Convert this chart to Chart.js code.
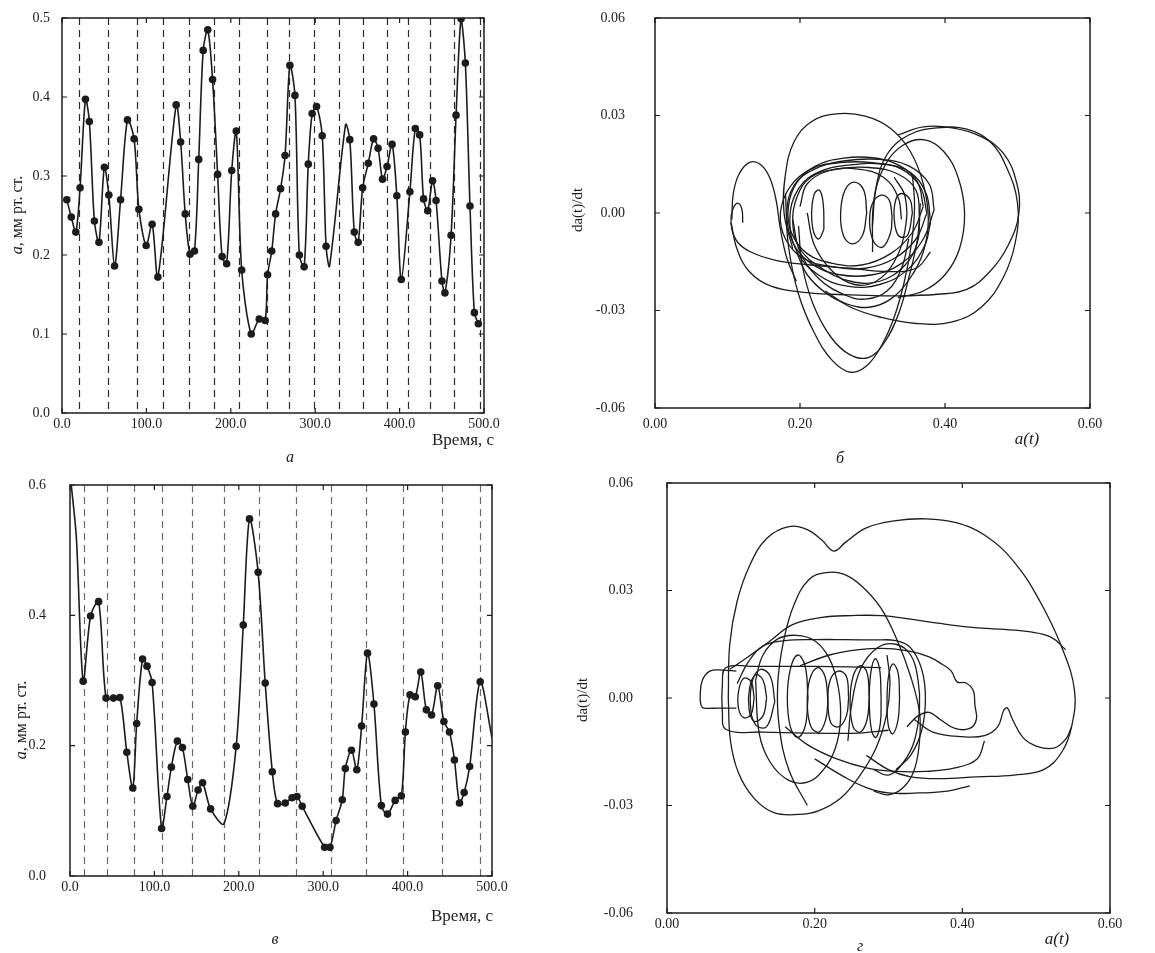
<!DOCTYPE html>
<html>
<head>
<meta charset="utf-8">
<script src="https://cdn.jsdelivr.net/npm/chart.js@4.4.1/dist/chart.umd.min.js"></script>
<style>
  body { margin: 0; background: #fff; width: 1155px; height: 953px; position: relative; overflow: hidden; }
  canvas { position: absolute; }
</style>
</head>
<body>
<canvas id="chartA" width="555" height="470" style="left:0;top:0"></canvas>
<canvas id="chartB" width="600" height="470" style="left:555px;top:0"></canvas>
<canvas id="chartC" width="555" height="483" style="left:0;top:470px"></canvas>
<canvas id="chartD" width="600" height="483" style="left:555px;top:470px"></canvas>
<script>
// ---- panel а : time series ----
const timeA = [5.7, 11.0, 16.4, 21.4, 27.8, 32.4, 38.4, 43.8, 50.2, 55.5, 62.3, 69.4, 77.6, 85.4, 91.1, 99.7,
  106.8, 113.6, 135.3, 140.6, 146.0, 151.7, 157.0, 162.0, 167.3, 172.7, 178.4, 184.4, 189.7, 195.1, 201.1,
  206.5, 212.9, 224.2, 233.7, 240.7, 243.6, 248.5, 253.1, 259.0, 264.3, 270.0, 276.0, 281.2, 286.9, 291.8,
  296.4, 301.6, 308.3, 312.9, 317.0, 336.0, 341.0, 346.3, 350.9, 356.2, 362.9, 369.2, 374.5, 379.8, 385.1,
  391.1, 396.7, 402.0, 412.2, 418.6, 423.8, 428.4, 433.3, 439.0, 443.2, 450.2, 453.7, 461.0, 466.9, 472.8,
  477.9, 483.4, 488.6, 493.3];
const levelA = [0.270, 0.248, 0.229, 0.285, 0.397, 0.369, 0.243, 0.216, 0.311, 0.276, 0.186, 0.270, 0.371,
  0.347, 0.258, 0.212, 0.239, 0.172, 0.390, 0.343, 0.252, 0.201, 0.205, 0.321, 0.459, 0.485, 0.422, 0.302,
  0.198, 0.189, 0.307, 0.357, 0.181, 0.100, 0.119, 0.117, 0.175, 0.205, 0.252, 0.284, 0.326, 0.440, 0.402,
  0.200, 0.185, 0.315, 0.379, 0.388, 0.351, 0.211, 0.186, 0.365, 0.346, 0.229, 0.216, 0.285, 0.316, 0.347,
  0.335, 0.296, 0.312, 0.340, 0.275, 0.169, 0.280, 0.360, 0.352, 0.271, 0.256, 0.294, 0.269, 0.167, 0.152,
  0.225, 0.377, 0.499, 0.443, 0.262, 0.127, 0.113];
const plainA = [317.0, 336.0];   // curve passes here without a marker
const dashA = [20.5, 54, 88.5, 120, 151, 180.5, 210, 242.5, 269, 299, 328.6, 357, 385, 410, 436, 464, 495];

// ---- panel в : time series ----
const timeC = [1.5, 7.5, 15.6, 24.4, 33.9, 42.7, 51.5, 59.2, 67.3, 74.4, 79.0, 86.0, 91.3, 97.3, 108.5, 114.9,
  120.1, 127.2, 133.2, 139.5, 145.5, 151.8, 157.1, 166.6, 182.4, 196.9, 205.3, 212.7, 222.9, 231.3, 239.7,
  245.9, 255.0, 263.1, 268.9, 275.1, 301.7, 308.0, 315.3, 322.6, 326.2, 333.5, 339.8, 345.5, 352.5, 360.1,
  368.9, 376.2, 385.3, 392.6, 397.4, 402.9, 409.1, 415.6, 422.2, 428.4, 435.7, 443.0, 449.6, 455.5, 461.5,
  467.0, 473.5, 486.0, 500.0];
const levelC = [0.600, 0.520, 0.299, 0.399, 0.421, 0.273, 0.273, 0.274, 0.190, 0.135, 0.234, 0.333, 0.322,
  0.297, 0.073, 0.122, 0.167, 0.207, 0.197, 0.148, 0.107, 0.132, 0.143, 0.103, 0.080, 0.199, 0.385, 0.548,
  0.466, 0.296, 0.160, 0.111, 0.112, 0.120, 0.122, 0.107, 0.044, 0.044, 0.085, 0.117, 0.165, 0.193, 0.163,
  0.230, 0.342, 0.264, 0.108, 0.095, 0.116, 0.123, 0.221, 0.278, 0.275, 0.313, 0.255, 0.247, 0.292, 0.237,
  0.221, 0.178, 0.112, 0.128, 0.168, 0.298, 0.212];
const plainC = [1.5, 7.5, 182.4, 500.0];
const dashC = [17, 43.7, 75.4, 109, 144, 182.5, 224, 268, 309.5, 351, 395, 440.5, 486];

// ---- panel б : phase portrait, pieces of the trajectory [a, da/dt] ----
const hookB = [[0.121,-0.003],[0.12,0.001],[0.115,0.003],[0.109,0.002],[0.105,-0.001],[0.106,-0.005],[0.114,-0.009],
  [0.132,-0.012],[0.165,-0.0145],[0.215,-0.016],[0.27,-0.017],[0.32,-0.018],[0.36,-0.017],[0.38,-0.012]];
const lobeB = [[0.106,-0.002],[0.108,0.006],[0.116,0.012],[0.13,0.0155],[0.145,0.015],[0.158,0.011],[0.167,0.004],
  [0.173,-0.005],[0.182,-0.014],[0.195,-0.021]];
const sweepB = [[0.105,-0.003],[0.113,-0.011],[0.13,-0.018],[0.16,-0.0225],[0.21,-0.0245],[0.27,-0.0252],[0.33,-0.0255],
  [0.39,-0.025],[0.43,-0.0235],[0.462,-0.018],[0.487,-0.01],[0.502,0.0],[0.498,0.01],[0.48,0.0185],[0.45,0.0235],
  [0.41,0.0262],[0.37,0.0265],[0.335,0.024]];
const rightB = [[0.3,-0.004],[0.305,0.008],[0.32,0.018],[0.35,0.024],[0.39,0.0262],[0.43,0.0258],[0.462,0.022],
  [0.485,0.014],[0.5,0.003],[0.497,-0.009],[0.48,-0.02],[0.45,-0.029],[0.41,-0.0335],[0.36,-0.034],[0.31,-0.032],
  [0.27,-0.029],[0.235,-0.024]];
const dropB1 = [[0.18,0.006],[0.184,-0.01],[0.198,-0.025],[0.22,-0.037],[0.245,-0.0455],[0.27,-0.049],[0.292,-0.047],
  [0.312,-0.041],[0.33,-0.032],[0.344,-0.021],[0.354,-0.009],[0.358,0.002],[0.355,0.012]];
const dropB2 = [[0.198,-0.004],[0.203,-0.016],[0.218,-0.028],[0.242,-0.038],[0.268,-0.0435],[0.294,-0.0445],
  [0.316,-0.04],[0.336,-0.031],[0.35,-0.02],[0.362,-0.008],[0.366,0.003]];
const topB = [[0.19,-0.011],[0.178,0.0],[0.18,0.012],[0.192,0.022],[0.215,0.028],[0.25,0.0305],[0.29,0.0298],
  [0.325,0.026],[0.352,0.019],[0.37,0.009],[0.377,-0.002],[0.37,-0.012],[0.352,-0.02],[0.325,-0.0265],[0.295,-0.029],
  [0.265,-0.028],[0.235,-0.0245],[0.21,-0.019],[0.195,-0.012]];
const midB = [[0.3,-0.012],[0.302,0.004],[0.318,0.015],[0.343,0.021],[0.372,0.0225],[0.398,0.019],[0.418,0.011],
  [0.427,0.0],[0.42,-0.011],[0.4,-0.019],[0.37,-0.024],[0.335,-0.026]];
const ringB1 = [[0.375,0.0],[0.366,0.008],[0.34,0.0135],[0.3,0.0155],[0.255,0.0155],[0.215,0.0135],[0.186,0.008],
  [0.173,0.0],[0.18,-0.008],[0.205,-0.014],[0.245,-0.0165],[0.29,-0.017],[0.33,-0.014],[0.36,-0.008],[0.375,0.0]];
const ringB2 = [[0.385,0.001],[0.378,0.009],[0.35,0.0145],[0.31,0.0165],[0.26,0.016],[0.22,0.0135],[0.192,0.0085],
  [0.182,0.0],[0.19,-0.009],[0.215,-0.0155],[0.255,-0.019],[0.3,-0.019],[0.34,-0.0155],[0.37,-0.008],[0.385,0.001]];
const ringB3 = [[0.365,-0.002],[0.36,0.007],[0.335,0.012],[0.295,0.014],[0.25,0.0135],[0.215,0.011],[0.196,0.005],
  [0.19,-0.003],[0.2,-0.011],[0.23,-0.017],[0.27,-0.021],[0.31,-0.021],[0.345,-0.016],[0.362,-0.009],[0.365,-0.002]];
const ringB4 = [[0.38,-0.003],[0.374,0.006],[0.352,0.0125],[0.315,0.015],[0.27,0.0148],[0.228,0.0128],[0.198,0.0075],
  [0.186,-0.002],[0.196,-0.012],[0.225,-0.019],[0.265,-0.0225],[0.31,-0.022],[0.348,-0.0175],[0.372,-0.01],[0.38,-0.003]];
const ringB5 = [[0.37,0.002],[0.362,0.0095],[0.338,0.0145],[0.3,0.017],[0.258,0.0168],[0.222,0.0145],[0.196,0.0095],
  [0.184,0.002],[0.188,-0.006],[0.21,-0.0125],[0.245,-0.0155],[0.285,-0.016],[0.325,-0.0125],[0.355,-0.006],[0.37,0.002]];
const innerB1 = [[0.233,-0.005],[0.232,0.003],[0.227,0.007],[0.22,0.006],[0.216,0.0],[0.219,-0.006],[0.226,-0.008],[0.233,-0.005]];
const innerB2 = [[0.292,0.0],[0.288,0.007],[0.275,0.0095],[0.262,0.007],[0.256,0.0],[0.26,-0.007],[0.272,-0.0095],[0.286,-0.007],[0.292,0.0]];
const innerB3 = [[0.327,-0.001],[0.323,0.004],[0.312,0.0055],[0.3,0.003],[0.296,-0.003],[0.302,-0.009],[0.314,-0.0105],[0.325,-0.006],[0.327,-0.001]];
const innerB4 = [[0.355,0.0],[0.352,0.004],[0.34,0.006],[0.332,0.004],[0.33,-0.002],[0.336,-0.007],[0.348,-0.007],[0.355,0.0]];
const archB = [[0.2,0.002],[0.21,0.009],[0.24,0.013],[0.28,0.0135],[0.315,0.011],[0.335,0.005],[0.34,-0.002]];
const lowB1 = [[0.19,-0.002],[0.2,-0.012],[0.225,-0.02],[0.26,-0.025],[0.29,-0.0265],[0.32,-0.024],[0.34,-0.017],[0.35,-0.008]];
const lowB2 = [[0.21,0.0],[0.22,-0.01],[0.245,-0.018],[0.275,-0.022],[0.305,-0.021],[0.33,-0.015],[0.345,-0.005],[0.345,0.005],[0.33,0.011]];
const loopsB = [hookB, lobeB, sweepB, rightB, dropB1, dropB2, topB, midB, ringB1, ringB2, ringB3, ringB4, ringB5,
  innerB1, innerB2, innerB3, innerB4, archB, lowB1, lowB2];

// ---- panel г : phase portrait ----
const outerD = [[0.27,-0.016],[0.3,-0.02],[0.33,-0.022],[0.37,-0.0225],[0.42,-0.022],[0.47,-0.0215],[0.51,-0.02],
  [0.535,-0.015],[0.548,-0.008],[0.552,0.002],[0.535,0.014],[0.505,0.027],[0.47,0.038],[0.43,0.0455],[0.39,0.049],
  [0.35,0.05],[0.31,0.0495],[0.27,0.0475],[0.242,0.0435],[0.226,0.041],[0.21,0.044],[0.19,0.047],[0.165,0.0478],
  [0.135,0.0445],[0.112,0.037],[0.095,0.027],[0.085,0.015],[0.083,0.0]];
const leftD = [[0.083,0.0],[0.086,-0.012],[0.097,-0.021],[0.118,-0.028],[0.145,-0.032],[0.178,-0.0325],[0.205,-0.0315],
  [0.235,-0.028],[0.26,-0.022],[0.283,-0.014],[0.297,-0.005],[0.302,0.004],[0.298,0.012]];
const tallD = [[0.19,-0.03],[0.165,-0.02],[0.152,-0.008],[0.15,0.004],[0.158,0.016],[0.172,0.026],[0.192,0.033],
  [0.215,0.035],[0.24,0.0345],[0.265,0.031],[0.29,0.025],[0.312,0.016],[0.33,0.006],[0.342,-0.004],[0.342,-0.012],
  [0.335,-0.02],[0.32,-0.025],[0.3,-0.027],[0.28,-0.026]];
const longD = [[0.085,0.008],[0.11,0.0115],[0.14,0.016],[0.17,0.0205],[0.21,0.0225],[0.25,0.023],[0.29,0.023],
  [0.33,0.022],[0.37,0.0208],[0.41,0.0198],[0.45,0.0192],[0.49,0.0185],[0.52,0.017],[0.54,0.0135]];
const flatD = [[0.095,0.004],[0.11,0.01],[0.13,0.0145],[0.16,0.016],[0.2,0.0163],[0.24,0.0163],[0.28,0.0162],
  [0.31,0.016],[0.33,0.014],[0.345,0.008],[0.35,0.0],[0.345,-0.009],[0.33,-0.016],[0.31,-0.02]];
const wavyD = [[0.18,0.009],[0.22,0.012],[0.26,0.0135],[0.3,0.0138],[0.33,0.013],[0.355,0.0115],[0.372,0.0095],
  [0.385,0.0075],[0.393,0.0045],[0.405,0.0042],[0.415,0.002],[0.417,-0.002],[0.419,-0.006],[0.41,-0.0085],
  [0.39,-0.0085],[0.37,-0.006],[0.355,-0.004],[0.34,-0.005],[0.325,-0.008]];
const spikeD = [[0.335,-0.006],[0.36,-0.0095],[0.4,-0.0108],[0.43,-0.0105],[0.448,-0.008],[0.456,-0.0035],
  [0.461,-0.0028],[0.468,-0.006],[0.482,-0.011],[0.5,-0.0134],[0.524,-0.014],[0.54,-0.0115],[0.548,-0.008]];
const bottomD1 = [[0.16,-0.008],[0.19,-0.013],[0.23,-0.017],[0.27,-0.0195],[0.31,-0.0205],[0.35,-0.0205],
  [0.39,-0.0195],[0.42,-0.017],[0.43,-0.012]];
const bottomD2 = [[0.2,-0.017],[0.24,-0.022],[0.27,-0.025],[0.3,-0.0265],[0.34,-0.0265],[0.38,-0.026],[0.41,-0.0245]];
const capsuleD = [[0.094,0.0075],[0.075,0.0078],[0.058,0.0075],[0.048,0.005],[0.045,0.001],[0.046,-0.002],
  [0.05,-0.0028],[0.07,-0.0028],[0.094,-0.0028]];
const rectD = [[0.29,0.0085],[0.2,0.0088],[0.12,0.0088],[0.08,0.0085],[0.075,0.004],[0.075,-0.004],[0.08,-0.0088],
  [0.13,-0.0095],[0.2,-0.0098],[0.26,-0.0098],[0.3,-0.009]];
const circD1 = [[0.118,0.0],[0.114,0.0045],[0.104,0.0055],[0.097,0.002],[0.097,-0.003],[0.104,-0.0055],[0.114,-0.0045],[0.118,0.0]];
const circD2 = [[0.135,0.0],[0.13,0.005],[0.12,0.0065],[0.112,0.003],[0.111,-0.003],[0.118,-0.0065],[0.13,-0.005],[0.135,0.0]];
const circD3 = [[0.146,-0.001],[0.14,0.006],[0.127,0.008],[0.116,0.005],[0.113,-0.002],[0.12,-0.0075],[0.135,-0.008],[0.146,-0.001]];
const ellD1 = [[0.191,0.0],[0.187,0.009],[0.177,0.012],[0.167,0.008],[0.163,0.0],[0.167,-0.008],[0.177,-0.011],[0.187,-0.008],[0.191,0.0]];
const ellD2 = [[0.218,-0.001],[0.214,0.006],[0.204,0.0085],[0.193,0.005],[0.19,-0.002],[0.195,-0.008],[0.206,-0.0095],[0.215,-0.006],[0.218,-0.001]];
const ellD3 = [[0.246,0.0],[0.243,0.006],[0.232,0.0075],[0.221,0.005],[0.218,-0.001],[0.222,-0.007],[0.233,-0.008],[0.243,-0.005],[0.246,0.0]];
const ellD4 = [[0.274,0.0],[0.271,0.007],[0.262,0.009],[0.252,0.006],[0.248,-0.001],[0.252,-0.008],[0.262,-0.0095],[0.271,-0.006],[0.274,0.0]];
const ellD5 = [[0.29,0.0],[0.288,0.008],[0.282,0.011],[0.276,0.007],[0.274,-0.001],[0.277,-0.009],[0.283,-0.011],[0.289,-0.007],[0.29,0.0]];
const ellD6 = [[0.315,0.0],[0.313,0.007],[0.306,0.0095],[0.3,0.006],[0.298,-0.001],[0.3,-0.008],[0.306,-0.01],[0.313,-0.006],[0.315,0.0]];
const ringD1 = [[0.12,0.005],[0.13,0.012],[0.15,0.0165],[0.175,0.0175],[0.2,0.016],[0.22,0.011],[0.232,0.003],
  [0.235,-0.006],[0.228,-0.014],[0.212,-0.02],[0.19,-0.0235],[0.165,-0.023],[0.14,-0.018],[0.125,-0.01],[0.12,0.005]];
const ringD2 = [[0.245,-0.012],[0.25,-0.002],[0.262,0.008],[0.285,0.014],[0.31,0.015],[0.33,0.012],[0.34,0.005],
  [0.342,-0.003],[0.335,-0.012],[0.32,-0.018],[0.3,-0.0215],[0.28,-0.02]];
const loopsD = [outerD, leftD, tallD, longD, flatD, wavyD, spikeD, bottomD1, bottomD2, capsuleD, rectD,
  circD1, circD2, circD3, ellD1, ellD2, ellD3, ellD4, ellD5, ellD6, ringD1, ringD2];

const INK = '#1c1c1c';
const tickFont = { family: 'Liberation Serif', size: 14 };
const serif = '"Liberation Serif", serif';

// box, inward ticks and dashed verticals, all placed through the chart scales
function framePlugin(dashes, dashColor) {
  return {
    id: 'frame',
    beforeDatasetsDraw(chart) {
      if (!dashes) return;
      const { ctx, chartArea: a, scales: { x } } = chart;
      ctx.save();
      ctx.strokeStyle = dashColor;
      ctx.lineWidth = 1.2;
      ctx.setLineDash([7, 5]);
      dashes.forEach(v => {
        const px = Math.round(x.getPixelForValue(v)) + 0.5;
        ctx.beginPath(); ctx.moveTo(px, a.top); ctx.lineTo(px, a.bottom); ctx.stroke();
      });
      ctx.restore();
    },
    afterDatasetsDraw(chart) {
      const { ctx, chartArea: a, scales: { x, y } } = chart;
      ctx.save();
      ctx.strokeStyle = INK;
      ctx.lineWidth = 1.5;
      ctx.strokeRect(a.left, a.top, a.right - a.left, a.bottom - a.top);
      ctx.lineWidth = 1.2;
      ctx.beginPath();
      x.ticks.forEach(t => {
        const px = x.getPixelForValue(t.value);
        ctx.moveTo(px, a.bottom); ctx.lineTo(px, a.bottom - 5);
        ctx.moveTo(px, a.top); ctx.lineTo(px, a.top + 5);
      });
      y.ticks.forEach(t => {
        const py = y.getPixelForValue(t.value);
        ctx.moveTo(a.left, py); ctx.lineTo(a.left + 5, py);
        ctx.moveTo(a.right, py); ctx.lineTo(a.right - 5, py);
      });
      ctx.stroke();
      ctx.restore();
    }
  };
}

// axis titles and panel letters; each note is a list of [text, font] parts
function notesPlugin(notes) {
  return {
    id: 'notes',
    afterDraw(chart) {
      const ctx = chart.ctx;
      ctx.save();
      ctx.fillStyle = INK;
      ctx.textBaseline = 'middle';
      notes.forEach(n => {
        ctx.save();
        ctx.translate(n.x, n.y);
        if (n.rot) ctx.rotate(n.rot);
        let w = 0;
        n.parts.forEach(p => { ctx.font = p[1]; w += ctx.measureText(p[0]).width; });
        let cx = -w / 2;
        ctx.textAlign = 'left';
        n.parts.forEach(p => { ctx.font = p[1]; ctx.fillText(p[0], cx, 0); cx += ctx.measureText(p[0]).width; });
        ctx.restore();
      });
      ctx.restore();
    }
  };
}

function fmt(digits) {
  return v => (Math.abs(v) < 1e-9 ? 0 : v).toFixed(digits);
}

function axes(box, xr, yr) {
  return {
    x: {
      type: 'linear', min: xr[0], max: xr[1],
      ticks: { stepSize: xr[2], callback: fmt(xr[3]), font: tickFont, color: INK, padding: box.xpad, maxRotation: 0 },
      grid: { display: false, drawTicks: false }, border: { display: false },
      afterFit: s => { s.height = box.xh; }
    },
    y: {
      type: 'linear', min: yr[0], max: yr[1],
      ticks: { stepSize: yr[2], callback: fmt(yr[3]), font: tickFont, color: INK, padding: box.ypad },
      grid: { display: false, drawTicks: false }, border: { display: false },
      // fixed width; the label gap must not push the plot area down
      afterFit: s => { s.width = box.yw; s.paddingTop = 0; s.paddingBottom = 0; }
    }
  };
}

function seriesChart(id, times, levels, plain, dashes, dashColor, box, yr, notes) {
  new Chart(document.getElementById(id), {
    type: 'line',
    data: {
      datasets: [{
        data: times.map((t, i) => ({ x: t, y: levels[i] })),
        borderColor: INK, borderWidth: 1.6, tension: 0.3,
        pointBackgroundColor: INK, pointBorderWidth: 0,
        pointRadius: ctx => plain.includes(times[ctx.dataIndex]) ? 0 : 3.8
      }]
    },
    options: {
      responsive: false, animation: false,
      layout: { padding: { left: 0, top: box.top, right: box.right, bottom: 0 } },
      plugins: { legend: { display: false }, tooltip: { enabled: false } },
      scales: axes(box, [0, 500, 100, 1], yr)
    },
    plugins: [framePlugin(dashes, dashColor), notesPlugin(notes)]
  });
}

function phaseChart(id, loops, box, notes) {
  new Chart(document.getElementById(id), {
    type: 'scatter',
    data: {
      datasets: loops.map(loop => ({
        data: loop.map(p => ({ x: p[0], y: p[1] })),
        showLine: true, borderColor: INK, borderWidth: 1.3, pointRadius: 0, tension: 0.4
      }))
    },
    options: {
      responsive: false, animation: false,
      layout: { padding: { left: 0, top: box.top, right: box.right, bottom: 0 } },
      plugins: { legend: { display: false }, tooltip: { enabled: false } },
      scales: axes(box, [0, 0.6, 0.2, 2], [-0.06, 0.06, 0.03, 2])
    },
    plugins: [framePlugin(null), notesPlugin(notes)]
  });
}

const upright = '16px ' + serif;
const italic = 'italic 16px ' + serif;
const yTitle = [['a', 'italic 16px ' + serif], [', мм рт. ст.', upright]];

seriesChart('chartA', timeA, levelA, plainA, dashA, '#2a2a2a',
  { top: 18, right: 71, yw: 62, xh: 57, xpad: 3, ypad: 12 }, [0, 0.5, 0.1, 1], [
    { x: 18, y: 215, rot: -Math.PI / 2, parts: yTitle },
    { x: 463, y: 441, parts: [['Время, с', '17px ' + serif]] },
    { x: 290, y: 458, parts: [['а', italic]] }
  ]);

phaseChart('chartB', loopsB, { top: 18, right: 65, yw: 100, xh: 62, xpad: 8, ypad: 30 }, [
  { x: 23, y: 210, rot: -Math.PI / 2, parts: [['da(t)/dt', '15px ' + serif]] },
  { x: 472, y: 440, parts: [['a(t)', 'italic 17px ' + serif]] },
  { x: 285, y: 459, parts: [['б', italic]] }
]);

seriesChart('chartC', timeC, levelC, plainC, dashC, '#6a6a6a',
  { top: 15, right: 63, yw: 70, xh: 77, xpad: 3, ypad: 24 }, [0, 0.6, 0.2, 1], [
    { x: 22, y: 250, rot: -Math.PI / 2, parts: yTitle },
    { x: 462, y: 447, parts: [['Время, с', '17px ' + serif]] },
    { x: 275, y: 470, parts: [['в', italic]] }
  ]);

phaseChart('chartD', loopsD, { top: 13, right: 45, yw: 112, xh: 40, xpad: 3, ypad: 34 }, [
  { x: 28, y: 230, rot: -Math.PI / 2, parts: [['da(t)/dt', '15px ' + serif]] },
  { x: 502, y: 470, parts: [['a(t)', 'italic 17px ' + serif]] },
  { x: 305, y: 477, parts: [['г', italic]] }
]);
</script>
</body>
</html>
